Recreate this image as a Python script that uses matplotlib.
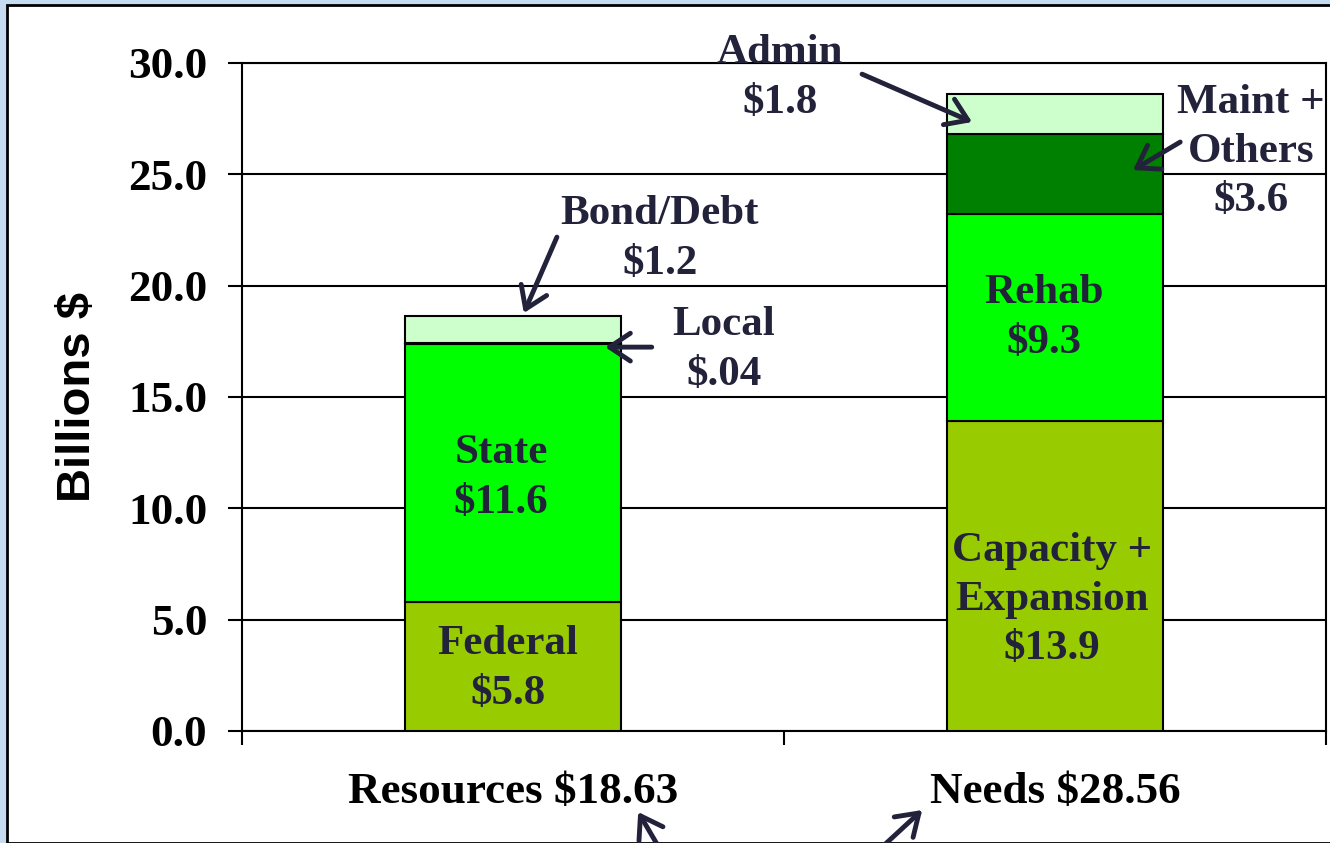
import matplotlib
matplotlib.use("Agg")
import matplotlib.pyplot as plt
from matplotlib.patches import Rectangle

# ---- data ----
categories = ["Resources $18.63", "Needs $28.56"]
resources_labels = ["Federal", "State", "Local", "Bond/Debt"]
resources_values = [5.8, 11.6, 0.04, 1.2]
needs_labels = ["Capacity + Expansion", "Rehab", "Maint + Others", "Admin"]
needs_values = [13.9, 9.3, 3.6, 1.8]
yticks = [0, 5, 10, 15, 20, 25, 30]

res_colors = ["#99CC00", "#00FF00", "#00FF00", "#CCFFCC"]
need_colors = ["#99CC00", "#00FF00", "#008000", "#CCFFCC"]

TXT = "#22223A"
SERIF = ["Liberation Serif", "DejaVu Serif"]
FS = 32.5
FS_LAB = 31

fig = plt.figure(figsize=(13.3, 8.43), dpi=100)
fig.patch.set_facecolor("#C5DBF1")
frame = Rectangle((7 / 1330, 0), 1.0, 1 - 5 / 843, transform=fig.transFigure,
                  facecolor="white", edgecolor="black", linewidth=2, zorder=-5)
fig.patches.append(frame)

ax = fig.add_axes([242 / 1330, 1 - 731 / 843, (1326 - 242) / 1330, (731 - 63) / 843])
ax.set_facecolor("none")
ax.set_zorder(2)

width = 0.4
for xi, (vals, cols) in enumerate([(resources_values, res_colors), (needs_values, need_colors)]):
    bottom = 0.0
    for v, c in zip(vals, cols):
        ax.bar(xi, v, width=width, bottom=bottom, color=c, edgecolor="black",
               linewidth=1.5, zorder=3)
        bottom += v

ax.set_xlim(-0.5, 1.5)
ax.set_ylim(0, 30)
ax.set_yticks(yticks)
ax.set_yticklabels([f"{t:.1f}" for t in yticks], fontfamily=SERIF,
                   fontweight="bold", fontsize=FS)
ax.set_xticks([-0.5, 0.5, 1.5])
ax.set_xticklabels([])
ax.tick_params(axis="y", length=10, width=1.5, pad=15, color="black")
ax.tick_params(axis="x", length=10, width=1.5, direction="out")
ax.yaxis.grid(True, color="black", linewidth=1.5, zorder=0)
ax.set_axisbelow(True)
for s in ax.spines.values():
    s.set_linewidth(1.5)
    s.set_color("black")

ax.set_ylabel("Billions $", fontfamily=["Liberation Sans", "DejaVu Sans"],
              fontweight="bold", fontsize=34, labelpad=20)

for xi, cat in enumerate(categories):
    ax.text(xi, -0.0913, cat, transform=ax.get_xaxis_transform(), ha="center",
            va="center", fontfamily=SERIF, fontweight="bold", fontsize=FS,
            color="black")

def lab(x, y, s):
    ax.text(x, y - 0.18, s, ha="center", va="center", fontfamily=SERIF,
            fontweight="bold", fontsize=FS_LAB, color=TXT, linespacing=1.39,
            zorder=5)

lab(-0.022, 11.54, "State\n$11.6")
lab(-0.009, 2.96, "Federal\n$5.8")
lab(0.994, 6.06, "Capacity +\nExpansion\n$13.9")
lab(0.98, 18.73, "Rehab\n$9.3")
lab(0.271, 22.27, "Bond/Debt\n$1.2")
lab(0.389, 17.29, "Local\n$.04")
lab(0.493, 29.5, "Admin\n$1.8")
lab(1.362, 26.18, "Maint +\nOthers\n$3.6")

def arrow(x0, y0, x1, y1):
    ax.annotate("", xy=(x1, y1), xytext=(x0, y0),
                arrowprops=dict(arrowstyle="->,head_length=0.6,head_width=0.4",
                                color=TXT, lw=3.5, mutation_scale=25,
                                shrinkA=0, shrinkB=0),
                annotation_clip=False, zorder=6)

arrow(0.644, 29.5, 0.847, 27.35)
arrow(1.231, 26.45, 1.144, 25.19)
arrow(0.081, 22.18, 0.020, 18.77)
arrow(0.256, 17.24, 0.170, 17.24)
arrow(0.271, -5.3, 0.231, -3.64)
arrow(0.677, -5.3, 0.755, -3.55)

fig.savefig("out.png", dpi=100, facecolor=fig.get_facecolor())
